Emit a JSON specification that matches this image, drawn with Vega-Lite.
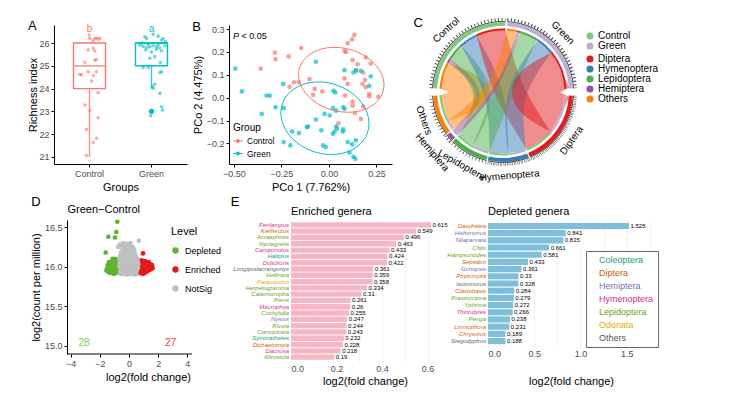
{
"$schema": "https://vega.github.io/schema/vega-lite/v6.json",
"padding": {"left": 27, "top": 13, "right": 5, "bottom": 5},
"config": {
 "font": "Liberation Sans",
 "view": {"stroke": null},
 "axis": {"labelColor": "#4d4d4d", "labelFontSize": 9, "titleFontSize": 11, "titleFontWeight": "normal", "titleColor": "#000000", "domainColor": "#000000", "tickColor": "#000000", "tickSize": 3, "grid": false, "labelPadding": 2, "titlePadding": 3, "labelOverlap": false},
 "title": {"fontSize": 13, "fontWeight": "normal", "anchor": "start", "color": "#000000", "offset": -9},
 "legend": {"titleFontWeight": "normal", "titleColor": "#000000", "labelColor": "#000000"}
},
"resolve": {"scale": {"color": "independent", "fill": "independent", "stroke": "independent", "size": "independent"}},
"spacing": 3,
"vconcat": [
 {
  "hconcat": [
   {
    "width": 133, "height": 139,
    "title": {"text": "A"},
    "layer": [
     {"data": {"name": "abox"}, "mark": {"type": "rule", "strokeWidth": 1.4, "opacity": 0.8},
      "encoding": {
       "x": {"field": "grp", "type": "nominal", "scale": {"domain": ["Control", "Green"], "paddingInner": 0.5, "paddingOuter": 0.3225}, "axis": {"title": "Groups", "labelAngle": 0}},
       "y": {"field": "lo", "type": "quantitative", "scale": {"domain": [20.69, 26.79], "nice": false, "zero": false}, "axis": {"title": "Richness index", "values": [21, 22, 23, 24, 25, 26], "tickCount": 12, "format": "d", "titlePadding": 0, "labelOverlap": false}},
       "y2": {"field": "q1"},
       "color": {"field": "grp", "type": "nominal", "scale": {"domain": ["Control", "Green"], "range": ["#F8766D", "#00BFC4"]}, "legend": null}}},
     {"data": {"name": "abox"}, "mark": {"type": "bar", "filled": false, "width": 32, "strokeWidth": 1.4},
      "encoding": {"x": {"field": "grp", "type": "nominal"}, "y": {"field": "q1", "type": "quantitative"}, "y2": {"field": "q3"}, "color": {"field": "grp", "type": "nominal"}}},
     {"data": {"name": "abox"}, "mark": {"type": "tick", "orient": "horizontal", "size": 32, "thickness": 1.8},
      "encoding": {"x": {"field": "grp", "type": "nominal"}, "y": {"field": "med", "type": "quantitative"}, "color": {"field": "grp", "type": "nominal"}}},
     {"data": {"name": "apts"}, "mark": {"type": "circle", "size": 13, "opacity": 0.6},
      "encoding": {"x": {"field": "grp", "type": "nominal"}, "xOffset": {"field": "j", "type": "quantitative", "scale": {"domain": [-1, 1]}}, "y": {"field": "v", "type": "quantitative"}, "color": {"field": "grp", "type": "nominal"}}},
     {"data": {"values": [{"grp": "Green", "v": 23}]}, "mark": {"type": "circle", "size": 28, "opacity": 1},
      "encoding": {"x": {"field": "grp", "type": "nominal"}, "y": {"field": "v", "type": "quantitative"}, "color": {"field": "grp", "type": "nominal"}}},
     {"data": {"name": "abox"}, "mark": {"type": "text", "fontSize": 10, "baseline": "middle"},
      "encoding": {"x": {"field": "grp", "type": "nominal"}, "y": {"datum": 26.62}, "text": {"field": "sig"}, "color": {"field": "grp", "type": "nominal"}}}
    ]
   },
   {
    "width": 163, "height": 139,
    "title": {"text": "B"},
    "layer": [
     {"data": {"name": "bpts"}, "mark": {"type": "circle", "size": 22, "opacity": 0.7},
      "encoding": {
       "x": {"field": "x", "type": "quantitative", "scale": {"domain": [-0.526, 0.332], "nice": false, "zero": false}, "axis": {"title": "PCo 1 (7.762%)", "values": [-0.5, -0.25, 0, 0.25], "tickCount": 10, "format": ".2f", "labelOverlap": false}},
       "y": {"field": "y", "type": "quantitative", "scale": {"domain": [-0.29, 0.3175], "nice": false, "zero": false}, "axis": {"title": "PCo 2 (4.475%)", "values": [-0.2, -0.1, 0, 0.1, 0.2, 0.3], "tickCount": 12, "format": ".1f", "labelOverlap": false}},
       "color": {"field": "g", "type": "nominal", "scale": {"domain": ["Control", "Green"], "range": ["#F8766D", "#00BFC4"]},
        "legend": {"title": "Group", "orient": "none", "legendX": 4, "legendY": 98, "titleFontSize": 10, "labelFontSize": 8.5, "symbolType": "M-1,-0.12H1V0.12H-1Z M0.4,0A0.4,0.4 0 1,1 -0.4,0A0.4,0.4 0 1,1 0.4,0Z", "symbolSize": 90, "symbolOpacity": 1, "symbolStrokeWidth": 0, "rowPadding": 2.5, "titlePadding": 3}}}},
     {"data": {"name": "bell"}, "mark": {"type": "line", "interpolate": "cardinal-closed", "strokeWidth": 1},
      "encoding": {"x": {"field": "x", "type": "quantitative"}, "y": {"field": "y", "type": "quantitative"}, "color": {"field": "g", "type": "nominal"}, "order": {"field": "k"}}},
     {"data": {"values": [{}]}, "mark": {"type": "text", "text": "P", "fontStyle": "italic", "fontSize": 9, "align": "left", "baseline": "middle"},
      "encoding": {"x": {"datum": -0.505}, "y": {"datum": 0.27}}},
     {"data": {"values": [{}]}, "mark": {"type": "text", "text": "< 0.05", "fontSize": 9, "align": "left", "baseline": "middle"},
      "encoding": {"x": {"datum": -0.46}, "y": {"datum": 0.27}}}
    ]
   },
   {
    "width": 138, "height": 134,
    "title": {"text": "C", "offset": -16},
    "resolve": {"scale": {"color": "independent"}},
    "layer": [
     {"data": {"name": "chords"},
      "transform": [
       {"calculate": "(datum.s1+datum.s2)*PI/360", "as": "A1"},
       {"calculate": "(datum.t1+datum.t2)*PI/360", "as": "A2"},
       {"calculate": "(datum.s2-datum.s1+datum.t2-datum.t1)/2", "as": "w"},
       {"calculate": "0", "as": "p0"},
       {"calculate": "1", "as": "p1"},
       {"calculate": "2", "as": "p2"},
       {"fold": ["p0", "p1", "p2"], "as": ["pk", "k"]},
       {"calculate": "0.88*(datum.k==0 ? sin(datum.A1) : datum.k==2 ? sin(datum.A2) : (sin(datum.A1)+sin(datum.A2))/4)", "as": "cx"},
       {"calculate": "0.88*(datum.k==0 ? cos(datum.A1) : datum.k==2 ? cos(datum.A2) : (cos(datum.A1)+cos(datum.A2))/4)", "as": "cy"}
      ],
      "mark": {"type": "line", "interpolate": "natural", "opacity": 0.5, "strokeCap": "butt", "strokeJoin": "round", "clip": true},
      "encoding": {
       "x": {"field": "cx", "type": "quantitative", "scale": {"domain": [-0.9857, 0.9857], "nice": false, "zero": false}, "axis": null},
       "y": {"field": "cy", "type": "quantitative", "scale": {"domain": [-0.9571, 0.9571], "nice": false, "zero": false}, "axis": null},
       "order": {"field": "k"},
       "detail": {"field": "id"},
       "stroke": {"field": "tax", "type": "nominal", "scale": {"domain": ["Diptera", "Hymenoptera", "Lepidoptera", "Hemiptera", "Others"], "range": ["#e41a1c", "#377eb8", "#4daf4a", "#984ea3", "#ff7f00"]}, "legend": null},
       "size": {"field": "w", "type": "quantitative", "scale": {"domain": [0, 40], "range": [0, 43]}, "legend": null}}},
     {"data": {"name": "segs"}, "transform": [{"filter": "datum.kind == 'grp'"}],
      "mark": {"type": "arc", "radius": 70, "radius2": 66},
      "encoding": {
       "theta": {"field": "s", "type": "quantitative", "stack": null, "scale": {"domain": [0, 360], "range": [0, 6.283185]}},
       "theta2": {"field": "e"},
       "color": {"field": "n", "type": "nominal", "scale": {"domain": ["Control", "Green"], "range": ["#7fc97f", "#beaed4"]},
        "legend": {"title": null, "orient": "none", "legendX": 151, "legendY": 6, "symbolType": "circle", "symbolSize": 50, "labelFontSize": 10, "rowPadding": 0, "labelOffset": 3}}}},
     {"data": {"name": "segs"}, "transform": [{"filter": "datum.kind == 'tax'"}],
      "mark": {"type": "arc", "radius": 70, "radius2": 66},
      "encoding": {
       "theta": {"field": "s", "type": "quantitative", "stack": null, "scale": {"domain": [0, 360], "range": [0, 6.283185]}},
       "theta2": {"field": "e"},
       "color": {"field": "n", "type": "nominal", "scale": {"domain": ["Diptera", "Hymenoptera", "Lepidoptera", "Hemiptera", "Others"], "range": ["#e41a1c", "#377eb8", "#4daf4a", "#984ea3", "#ff7f00"]},
        "legend": {"title": null, "orient": "none", "legendX": 151, "legendY": 29, "symbolType": "circle", "symbolSize": 50, "labelFontSize": 10, "rowPadding": 0, "labelOffset": 3}}}},
     {"data": {"name": "chords"},
      "mark": {"type": "arc", "radius": 63.5, "radius2": 61.5},
      "encoding": {
       "theta": {"field": "t1", "type": "quantitative", "stack": null, "scale": {"domain": [0, 360], "range": [0, 6.283185]}},
       "theta2": {"field": "t2"},
       "color": {"field": "src", "type": "nominal", "scale": {"domain": ["Control", "Green"], "range": ["#7fc97f", "#beaed4"]}, "legend": null}}},
     {"data": {"name": "chords"},
      "mark": {"type": "arc", "radius": 63.5, "radius2": 61.5},
      "encoding": {
       "theta": {"field": "s1", "type": "quantitative", "stack": null, "scale": {"domain": [0, 360], "range": [0, 6.283185]}},
       "theta2": {"field": "s2"},
       "color": {"field": "tax", "type": "nominal", "scale": {"domain": ["Diptera", "Hymenoptera", "Lepidoptera", "Hemiptera", "Others"], "range": ["#e41a1c", "#377eb8", "#4daf4a", "#984ea3", "#ff7f00"]}, "legend": null}}},
     {"data": {"name": "segs"},
      "mark": {"type": "arc", "radius": 71, "radius2": 70.2, "color": "#333333"},
      "encoding": {
       "theta": {"field": "s", "type": "quantitative", "stack": null, "scale": {"domain": [0, 360], "range": [0, 6.283185]}},
       "theta2": {"field": "e"}}},
     {"data": {"name": "segs"},
      "mark": {"type": "arc", "radius": 72.5, "radius2": 72.5, "fill": null, "stroke": "#333333", "strokeWidth": 3, "strokeDash": [0.5, 3]},
      "encoding": {
       "theta": {"field": "s", "type": "quantitative", "stack": null, "scale": {"domain": [0, 360], "range": [0, 6.283185]}},
       "theta2": {"field": "e"}}},
     {"data": {"name": "segs"},
      "transform": [
       {"calculate": "(datum.s+datum.e)/2", "as": "mid"},
       {"calculate": "datum.mid > 90 && datum.mid < 270 ? datum.mid - 180 : datum.mid", "as": "ang"},
       {"calculate": "datum.n == 'Hemiptera' ? 1.33 : 1.2", "as": "rr"},
       {"calculate": "datum.rr*sin(datum.mid*PI/180)", "as": "lx"},
       {"calculate": "datum.rr*cos(datum.mid*PI/180)", "as": "ly"}
      ],
      "mark": {"type": "text", "fontSize": 10, "align": "center", "baseline": "middle"},
      "encoding": {
       "x": {"field": "lx", "type": "quantitative"},
       "y": {"field": "ly", "type": "quantitative"},
       "text": {"field": "n"},
       "angle": {"field": "ang", "type": "quantitative", "scale": null}}}
    ]
   }
  ],
  "spacing": 42,
  "bounds": "flush",
  "resolve": {"scale": {"color": "independent", "fill": "independent", "stroke": "independent", "size": "independent"}}
 },
 {
  "hconcat": [
   {
    "width": 188, "height": 134,
    "layer": [
     {"data": {"name": "dpts"}, "mark": {"type": "circle", "size": 22, "opacity": 1},
      "encoding": {
       "x": {"field": "x", "type": "quantitative", "scale": {"domain": [-5.146, 7.753], "nice": false, "zero": false}, "axis": {"title": "log2(fold change)", "values": [-4, -2, 0, 2, 4], "tickCount": 10, "format": "d", "domain": false, "labelFlush": false}},
       "y": {"field": "y", "type": "quantitative", "scale": {"domain": [14.895, 16.592], "nice": false, "zero": false}, "axis": {"title": "log2(count per million)", "values": [15, 15.5, 16, 16.5], "tickCount": 10, "format": ".1f", "offset": -13}},
       "color": {"field": "lv", "type": "nominal", "scale": {"domain": ["Depleted", "Enriched", "NotSig"], "range": ["#5fb32f", "#e8191b", "#bfbfbf"]},
        "legend": {"title": "Level", "orient": "none", "legendX": 117, "legendY": 6, "titleFontSize": 11, "labelFontSize": 9, "symbolType": "circle", "symbolSize": 40, "symbolStrokeWidth": 0, "rowPadding": 9, "titlePadding": 9, "labelOffset": 5}}}},
     {"data": {"values": [{}]}, "mark": {"type": "rule", "color": "#000000", "strokeWidth": 1},
      "encoding": {"x": {"datum": -4.254}, "x2": {"datum": 4.32}, "y": {"datum": 14.895}}},
     {"data": {"values": [{}]}, "mark": {"type": "text", "text": "28", "fontSize": 10, "color": "#7ccd4f", "baseline": "middle"},
      "encoding": {"x": {"datum": -3.09}, "y": {"datum": 15.03}}},
     {"data": {"values": [{}]}, "mark": {"type": "text", "text": "27", "fontSize": 10, "color": "#ee3b3b", "baseline": "middle"},
      "encoding": {"x": {"datum": 2.86}, "y": {"datum": 15.03}}},
     {"data": {"values": [{}]}, "mark": {"type": "text", "text": "D", "fontSize": 13, "baseline": "middle"},
      "encoding": {"x": {"datum": -6.38}, "y": {"datum": 16.82}}},
     {"data": {"values": [{}]}, "mark": {"type": "text", "text": "Green−Control", "fontSize": 11, "align": "left", "baseline": "middle"},
      "encoding": {"x": {"datum": -4.22}, "y": {"datum": 16.713}}},
     {"data": {"values": [{}]}, "mark": {"type": "text", "text": "E", "fontSize": 13, "baseline": "middle"},
      "encoding": {"x": {"datum": 7.27}, "y": {"datum": 16.82}}}
    ]
   },
   {
    "width": 148, "height": 142,
    "title": {"text": "Enriched genera", "frame": "group", "fontSize": 11, "offset": 3},
    "data": {"name": "enr"},
    "encoding": {"y": {"field": "genus", "type": "nominal", "sort": null, "scale": {"paddingInner": 0.15, "paddingOuter": 0.35}, "axis": null}},
    "layer": [
     {"mark": {"type": "bar", "color": "#f7b6c4"},
      "encoding": {"x": {"field": "v", "type": "quantitative", "scale": {"domain": [0, 0.65], "nice": false, "zero": false},
       "axis": {"title": "log2(fold change)", "values": [0, 0.1, 0.2, 0.3, 0.4, 0.5, 0.6], "tickCount": 20, "labelExpr": "round(datum.value*10) % 2 == 0 ? format(datum.value, '.1f') : ''", "grid": true, "gridColor": "#ebebeb", "gridWidth": 0.7, "domain": false, "ticks": false, "titlePadding": 2}}}},
     {"mark": {"type": "text", "align": "left", "dx": 1.5, "fontSize": 6, "baseline": "middle"},
      "encoding": {"x": {"field": "v", "type": "quantitative"}, "text": {"field": "v", "type": "quantitative", "format": ".3~f"}}},
     {"mark": {"type": "text", "align": "right", "dx": -2, "fontSize": 6, "fontStyle": "italic", "baseline": "middle"},
      "encoding": {"x": {"datum": 0}, "text": {"field": "genus"},
       "color": {"field": "ord", "type": "nominal", "scale": {"domain": ["Coleoptera", "Diptera", "Hemiptera", "Hymenoptera", "Lepidoptera", "Odonata", "Others"], "range": ["#1b9e77", "#d95f02", "#7570b3", "#e7298a", "#66a61e", "#e6ab02", "#666666"]}, "legend": null}}}
    ]
   },
   {
    "width": 166, "height": 127,
    "title": {"text": "Depleted genera", "frame": "group", "fontSize": 11, "offset": 3},
    "data": {"name": "dep"},
    "encoding": {"y": {"field": "genus", "type": "nominal", "sort": null, "scale": {"paddingInner": 0.15, "paddingOuter": 0.4}, "axis": null}},
    "layer": [
     {"mark": {"type": "bar", "color": "#7ebfdb"},
      "encoding": {"x": {"field": "v", "type": "quantitative", "scale": {"domain": [0, 1.795], "nice": false, "zero": false},
       "axis": {"title": "log2(fold change)", "values": [0, 0.25, 0.5, 0.75, 1, 1.25, 1.5, 1.75], "tickCount": 20, "labelExpr": "round(datum.value*4) % 2 == 0 ? format(datum.value, '.1f') : ''", "grid": true, "gridColor": "#ebebeb", "gridWidth": 0.7, "domain": false, "ticks": false, "titlePadding": 17}}}},
     {"mark": {"type": "text", "align": "left", "dx": 1.5, "fontSize": 6, "baseline": "middle"},
      "encoding": {"x": {"field": "v", "type": "quantitative"}, "text": {"field": "v", "type": "quantitative", "format": ".3~f"}}},
     {"mark": {"type": "text", "align": "right", "dx": -2, "fontSize": 6, "fontStyle": "italic", "baseline": "middle"},
      "encoding": {"x": {"datum": 0}, "text": {"field": "genus"},
       "color": {"field": "ord", "type": "nominal", "scale": {"domain": ["Coleoptera", "Diptera", "Hemiptera", "Hymenoptera", "Lepidoptera", "Odonata", "Others"], "range": ["#1b9e77", "#d95f02", "#7570b3", "#e7298a", "#66a61e", "#e6ab02", "#666666"]},
        "legend": {"title": null, "orient": "none", "legendX": 98, "legendY": 31, "symbolSize": 0, "symbolOpacity": 0, "labelOffset": 0, "labelFontSize": 9, "rowPadding": 3, "padding": 4, "strokeColor": "#666666", "fillColor": "#ffffff",
         "labelColor": {"expr": "datum.value == 'Coleoptera' ? '#1b9e77' : datum.value == 'Diptera' ? '#d95f02' : datum.value == 'Hemiptera' ? '#7570b3' : datum.value == 'Hymenoptera' ? '#e7298a' : datum.value == 'Lepidoptera' ? '#66a61e' : datum.value == 'Odonata' ? '#e6ab02' : '#555555'"}}}}}
    ]
   }
  ],
  "spacing": 49,
  "bounds": "flush",
  "resolve": {"scale": {"color": "independent", "fill": "independent", "stroke": "independent", "size": "independent"}}
 }
],
"datasets": {
 "abox": [
  {"grp": "Control", "lo": 21, "q1": 24, "med": 25, "q3": 26, "hi": 26, "sig": "b"},
  {"grp": "Green", "lo": 24, "q1": 25, "med": 26, "q3": 26, "hi": 26, "sig": "a"}
 ],
 "apts": [
  {"grp": "Control", "v": 26.35, "j": -0.02}, {"grp": "Control", "v": 26.2, "j": 0.02}, {"grp": "Control", "v": 26.2, "j": 0.34}, {"grp": "Control", "v": 26.17, "j": 0.56}, {"grp": "Control", "v": 26.2, "j": 0.67}, {"grp": "Control", "v": 26.1, "j": 0.24}, {"grp": "Control", "v": 26.22, "j": 0.45}, {"grp": "Control", "v": 25.7, "j": -0.08}, {"grp": "Control", "v": 25.77, "j": 0.24}, {"grp": "Control", "v": 25.65, "j": 0.34}, {"grp": "Control", "v": 25.28, "j": 0.45}, {"grp": "Control", "v": 25.25, "j": 0.34}, {"grp": "Control", "v": 25.15, "j": -0.3}, {"grp": "Control", "v": 24.63, "j": -0.63}, {"grp": "Control", "v": 24.6, "j": -0.52}, {"grp": "Control", "v": 24.74, "j": -0.08}, {"grp": "Control", "v": 24.74, "j": 0.45}, {"grp": "Control", "v": 24.57, "j": 0.24}, {"grp": "Control", "v": 24.33, "j": 0.13}, {"grp": "Control", "v": 23.82, "j": 0.56}, {"grp": "Control", "v": 23.28, "j": -0.3}, {"grp": "Control", "v": 23.03, "j": 0.02}, {"grp": "Control", "v": 22.72, "j": 0.56}, {"grp": "Control", "v": 22.21, "j": -0.19}, {"grp": "Control", "v": 21.82, "j": 0.45}, {"grp": "Control", "v": 21.64, "j": 0.24}, {"grp": "Control", "v": 21.06, "j": -0.19},
  {"grp": "Green", "v": 26.28, "j": -0.43}, {"grp": "Green", "v": 26.2, "j": -0.32}, {"grp": "Green", "v": 26.38, "j": 0.11}, {"grp": "Green", "v": 26.3, "j": 0.43}, {"grp": "Green", "v": 26.2, "j": 0.75}, {"grp": "Green", "v": 26.13, "j": 0.65}, {"grp": "Green", "v": 26.06, "j": 0.9}, {"grp": "Green", "v": 25.9, "j": -0.75}, {"grp": "Green", "v": 25.85, "j": -0.54}, {"grp": "Green", "v": 25.8, "j": -0.32}, {"grp": "Green", "v": 25.83, "j": -0.11}, {"grp": "Green", "v": 25.88, "j": 0.11}, {"grp": "Green", "v": 25.83, "j": 0.32}, {"grp": "Green", "v": 25.78, "j": 0.54}, {"grp": "Green", "v": 25.7, "j": -0.37}, {"grp": "Green", "v": 25.6, "j": 0}, {"grp": "Green", "v": 25.73, "j": 0.32}, {"grp": "Green", "v": 25.66, "j": 0.65}, {"grp": "Green", "v": 25.33, "j": -0.11}, {"grp": "Green", "v": 25.4, "j": 0.21}, {"grp": "Green", "v": 25.14, "j": 0.58}, {"grp": "Green", "v": 24.92, "j": -0.54}, {"grp": "Green", "v": 24.92, "j": -0.21}, {"grp": "Green", "v": 24.74, "j": 0.65}, {"grp": "Green", "v": 24.7, "j": 0.54}, {"grp": "Green", "v": 24.19, "j": 0.21}, {"grp": "Green", "v": 24.01, "j": 0.11}, {"grp": "Green", "v": 24.08, "j": 0.06}, {"grp": "Green", "v": 23.79, "j": 0.54}, {"grp": "Green", "v": 23.2, "j": 0.65}, {"grp": "Green", "v": 23.06, "j": 0.71}, {"grp": "Green", "v": 22.81, "j": -0.06}, {"grp": "Green", "v": 26.0, "j": -0.65}, {"grp": "Green", "v": 25.95, "j": -0.21}, {"grp": "Green", "v": 25.92, "j": 0.43}, {"grp": "Green", "v": 25.88, "j": 0.86}
 ],
 "bpts": [
  {"g": "Control", "x": -0.285, "y": 0.197}, {"g": "Control", "x": -0.281, "y": 0.168}, {"g": "Control", "x": -0.212, "y": 0.18}, {"g": "Control", "x": -0.146, "y": 0.217}, {"g": "Control", "x": -0.359, "y": 0.127}, {"g": "Control", "x": -0.207, "y": 0.047}, {"g": "Control", "x": -0.184, "y": 0.067}, {"g": "Control", "x": -0.158, "y": 0.067}, {"g": "Control", "x": -0.102, "y": 0.081}, {"g": "Control", "x": 0.134, "y": 0.274}, {"g": "Control", "x": 0.122, "y": 0.255}, {"g": "Control", "x": 0.099, "y": 0.238}, {"g": "Control", "x": 0.082, "y": 0.204}, {"g": "Control", "x": 0.09, "y": 0.2}, {"g": "Control", "x": 0.194, "y": 0.175}, {"g": "Control", "x": 0.125, "y": 0.164}, {"g": "Control", "x": 0.22, "y": 0.149}, {"g": "Control", "x": 0.151, "y": 0.146}, {"g": "Control", "x": 0.142, "y": 0.117}, {"g": "Control", "x": 0.18, "y": 0.11}, {"g": "Control", "x": 0.082, "y": 0.084}, {"g": "Control", "x": 0.191, "y": 0.077}, {"g": "Control", "x": 0.177, "y": 0.06}, {"g": "Control", "x": 0.194, "y": 0.045}, {"g": "Control", "x": 0.099, "y": 0.06}, {"g": "Control", "x": -0.075, "y": 0.038}, {"g": "Control", "x": -0.035, "y": 0.027}, {"g": "Control", "x": -0.083, "y": 0.012}, {"g": "Control", "x": 0.085, "y": 0.009}, {"g": "Control", "x": 0.125, "y": -0.017}, {"g": "Control", "x": 0.212, "y": 0.016}, {"g": "Control", "x": 0.212, "y": 0.006}, {"g": "Control", "x": 0.26, "y": 0.004}, {"g": "Control", "x": 0.125, "y": -0.035}, {"g": "Control", "x": 0.137, "y": -0.067}, {"g": "Control", "x": 0.168, "y": -0.093}, {"g": "Control", "x": 0.05, "y": -0.112}, {"g": "Control", "x": 0.18, "y": -0.039},
  {"g": "Green", "x": -0.493, "y": 0.127}, {"g": "Green", "x": -0.458, "y": 0.027}, {"g": "Green", "x": -0.328, "y": 0.009}, {"g": "Green", "x": -0.311, "y": 0.009}, {"g": "Green", "x": -0.241, "y": 0.06}, {"g": "Green", "x": -0.354, "y": -0.071}, {"g": "Green", "x": -0.281, "y": -0.042}, {"g": "Green", "x": -0.238, "y": -0.046}, {"g": "Green", "x": -0.194, "y": -0.148}, {"g": "Green", "x": -0.158, "y": -0.155}, {"g": "Green", "x": -0.111, "y": -0.126}, {"g": "Green", "x": -0.238, "y": -0.194}, {"g": "Green", "x": -0.203, "y": -0.209}, {"g": "Green", "x": -0.069, "y": 0.157}, {"g": "Green", "x": 0.082, "y": 0.12}, {"g": "Green", "x": 0.129, "y": 0.11}, {"g": "Green", "x": 0.142, "y": 0.12}, {"g": "Green", "x": 0.168, "y": 0.117}, {"g": "Green", "x": 0.22, "y": 0.093}, {"g": "Green", "x": 0.212, "y": 0.052}, {"g": "Green", "x": 0.024, "y": 0.03}, {"g": "Green", "x": 0.033, "y": 0.023}, {"g": "Green", "x": 0.021, "y": -0.046}, {"g": "Green", "x": 0.038, "y": -0.057}, {"g": "Green", "x": 0.076, "y": -0.042}, {"g": "Green", "x": 0.082, "y": -0.049}, {"g": "Green", "x": -0.023, "y": -0.071}, {"g": "Green", "x": 0.004, "y": -0.078}, {"g": "Green", "x": -0.069, "y": -0.096}, {"g": "Green", "x": -0.115, "y": -0.129}, {"g": "Green", "x": -0.04, "y": -0.143}, {"g": "Green", "x": 0.038, "y": -0.126}, {"g": "Green", "x": 0.042, "y": -0.136}, {"g": "Green", "x": 0.021, "y": -0.158}, {"g": "Green", "x": 0.03, "y": -0.148}, {"g": "Green", "x": 0.073, "y": -0.148}, {"g": "Green", "x": 0.076, "y": -0.139}, {"g": "Green", "x": 0.099, "y": -0.194}, {"g": "Green", "x": 0.122, "y": -0.204}, {"g": "Green", "x": 0.142, "y": -0.187}, {"g": "Green", "x": -0.031, "y": -0.209}, {"g": "Green", "x": -0.017, "y": -0.216}, {"g": "Green", "x": 0.108, "y": -0.24}, {"g": "Green", "x": 0.129, "y": -0.259}, {"g": "Green", "x": 0.139, "y": -0.267}
 ],
 "bell": [
  {"g": "Control", "k": 0, "x": 0.29, "y": 0.0555}, {"g": "Control", "k": 1, "x": 0.2729, "y": 0.1108}, {"g": "Control", "k": 2, "x": 0.2241, "y": 0.1611}, {"g": "Control", "k": 3, "x": 0.1512, "y": 0.1988}, {"g": "Control", "k": 4, "x": 0.065, "y": 0.218}, {"g": "Control", "k": 5, "x": -0.0212, "y": 0.216}, {"g": "Control", "k": 6, "x": -0.0941, "y": 0.1929}, {"g": "Control", "k": 7, "x": -0.1429, "y": 0.1524}, {"g": "Control", "k": 8, "x": -0.16, "y": 0.1005}, {"g": "Control", "k": 9, "x": -0.1429, "y": 0.0452}, {"g": "Control", "k": 10, "x": -0.0941, "y": -0.0051}, {"g": "Control", "k": 11, "x": -0.0212, "y": -0.0428}, {"g": "Control", "k": 12, "x": 0.065, "y": -0.062}, {"g": "Control", "k": 13, "x": 0.1512, "y": -0.06}, {"g": "Control", "k": 14, "x": 0.2241, "y": -0.0369}, {"g": "Control", "k": 15, "x": 0.2729, "y": 0.0036},
  {"g": "Green", "k": 0, "x": 0.211, "y": -0.1132}, {"g": "Green", "k": 1, "x": 0.1934, "y": -0.0513}, {"g": "Green", "k": 2, "x": 0.143, "y": 0.0046}, {"g": "Green", "k": 3, "x": 0.0678, "y": 0.0461}, {"g": "Green", "k": 4, "x": -0.021, "y": 0.067}, {"g": "Green", "k": 5, "x": -0.1098, "y": 0.0639}, {"g": "Green", "k": 6, "x": -0.185, "y": 0.0374}, {"g": "Green", "k": 7, "x": -0.2354, "y": -0.0085}, {"g": "Green", "k": 8, "x": -0.253, "y": -0.0668}, {"g": "Green", "k": 9, "x": -0.2354, "y": -0.1287}, {"g": "Green", "k": 10, "x": -0.185, "y": -0.1846}, {"g": "Green", "k": 11, "x": -0.1098, "y": -0.2261}, {"g": "Green", "k": 12, "x": -0.021, "y": -0.247}, {"g": "Green", "k": 13, "x": 0.0678, "y": -0.2439}, {"g": "Green", "k": 14, "x": 0.143, "y": -0.2174}, {"g": "Green", "k": 15, "x": 0.1934, "y": -0.1715}
 ],
 "segs": [
  {"n": "Control", "kind": "grp", "s": 273, "e": 362},
  {"n": "Green", "kind": "grp", "s": 3.5, "e": 87},
  {"n": "Diptera", "kind": "tax", "s": 93, "e": 157.5},
  {"n": "Hymenoptera", "kind": "tax", "s": 158.5, "e": 192.5},
  {"n": "Lepidoptera", "kind": "tax", "s": 193.5, "e": 225.5},
  {"n": "Hemiptera", "kind": "tax", "s": 226.5, "e": 232.5},
  {"n": "Others", "kind": "tax", "s": 233.5, "e": 267}
 ],
 "chords": [
  {"id": "c1", "src": "Control", "tax": "Others", "s1": 273, "s2": 298, "t1": 242, "t2": 267},
  {"id": "c2", "src": "Control", "tax": "Hemiptera", "s1": 298, "s2": 302, "t1": 229, "t2": 232.5},
  {"id": "c3", "src": "Control", "tax": "Lepidoptera", "s1": 302, "s2": 318, "t1": 209, "t2": 225.5},
  {"id": "c4", "src": "Control", "tax": "Hymenoptera", "s1": 318, "s2": 335, "t1": 175, "t2": 192.5},
  {"id": "c5", "src": "Control", "tax": "Diptera", "s1": 335, "s2": 362, "t1": 130, "t2": 157.5},
  {"id": "g1", "src": "Green", "tax": "Others", "s1": 3.5, "s2": 13, "t1": 233.5, "t2": 242},
  {"id": "g2", "src": "Green", "tax": "Hemiptera", "s1": 13, "s2": 16, "t1": 226.5, "t2": 229},
  {"id": "g3", "src": "Green", "tax": "Lepidoptera", "s1": 16, "s2": 33.5, "t1": 193.5, "t2": 209},
  {"id": "g4", "src": "Green", "tax": "Hymenoptera", "s1": 33.5, "s2": 51, "t1": 158.5, "t2": 175},
  {"id": "g5", "src": "Green", "tax": "Diptera", "s1": 51, "s2": 87, "t1": 93, "t2": 130}
 ],
 "dpts": [
  {"lv": "NotSig", "x": -0.6, "y": 15.91}, {"lv": "NotSig", "x": -0.45, "y": 15.905}, {"lv": "NotSig", "x": -0.3, "y": 15.915}, {"lv": "NotSig", "x": -0.15, "y": 15.9}, {"lv": "NotSig", "x": 0, "y": 15.91}, {"lv": "NotSig", "x": 0.15, "y": 15.905}, {"lv": "NotSig", "x": 0.3, "y": 15.915}, {"lv": "NotSig", "x": 0.45, "y": 15.9}, {"lv": "NotSig", "x": 0.6, "y": 15.91},
  {"lv": "NotSig", "x": -0.75, "y": 15.94}, {"lv": "NotSig", "x": -0.62, "y": 15.945}, {"lv": "NotSig", "x": -0.5, "y": 15.935}, {"lv": "NotSig", "x": -0.36, "y": 15.94}, {"lv": "NotSig", "x": -0.22, "y": 15.95}, {"lv": "NotSig", "x": -0.08, "y": 15.935}, {"lv": "NotSig", "x": 0.05, "y": 15.945}, {"lv": "NotSig", "x": 0.2, "y": 15.94}, {"lv": "NotSig", "x": 0.33, "y": 15.935}, {"lv": "NotSig", "x": 0.47, "y": 15.945}, {"lv": "NotSig", "x": 0.6, "y": 15.94}, {"lv": "NotSig", "x": 0.72, "y": 15.935},
  {"lv": "NotSig", "x": -0.82, "y": 15.97}, {"lv": "NotSig", "x": -0.68, "y": 15.975}, {"lv": "NotSig", "x": -0.55, "y": 15.965}, {"lv": "NotSig", "x": -0.42, "y": 15.97}, {"lv": "NotSig", "x": -0.28, "y": 15.98}, {"lv": "NotSig", "x": -0.14, "y": 15.965}, {"lv": "NotSig", "x": 0, "y": 15.975}, {"lv": "NotSig", "x": 0.13, "y": 15.97}, {"lv": "NotSig", "x": 0.27, "y": 15.98}, {"lv": "NotSig", "x": 0.4, "y": 15.965}, {"lv": "NotSig", "x": 0.54, "y": 15.97}, {"lv": "NotSig", "x": 0.68, "y": 15.975}, {"lv": "NotSig", "x": 0.8, "y": 15.965},
  {"lv": "NotSig", "x": -0.88, "y": 16.0}, {"lv": "NotSig", "x": -0.74, "y": 16.005}, {"lv": "NotSig", "x": -0.6, "y": 15.995}, {"lv": "NotSig", "x": -0.47, "y": 16.0}, {"lv": "NotSig", "x": -0.33, "y": 16.01}, {"lv": "NotSig", "x": -0.2, "y": 15.995}, {"lv": "NotSig", "x": -0.06, "y": 16.005}, {"lv": "NotSig", "x": 0.08, "y": 16.0}, {"lv": "NotSig", "x": 0.22, "y": 16.01}, {"lv": "NotSig", "x": 0.36, "y": 15.995}, {"lv": "NotSig", "x": 0.5, "y": 16.005}, {"lv": "NotSig", "x": 0.63, "y": 16.0}, {"lv": "NotSig", "x": 0.77, "y": 16.01},
  {"lv": "NotSig", "x": -0.85, "y": 16.03}, {"lv": "NotSig", "x": -0.7, "y": 16.035}, {"lv": "NotSig", "x": -0.56, "y": 16.025}, {"lv": "NotSig", "x": -0.42, "y": 16.03}, {"lv": "NotSig", "x": -0.28, "y": 16.04}, {"lv": "NotSig", "x": -0.15, "y": 16.025}, {"lv": "NotSig", "x": 0, "y": 16.035}, {"lv": "NotSig", "x": 0.14, "y": 16.03}, {"lv": "NotSig", "x": 0.28, "y": 16.04}, {"lv": "NotSig", "x": 0.42, "y": 16.025}, {"lv": "NotSig", "x": 0.56, "y": 16.03}, {"lv": "NotSig", "x": 0.7, "y": 16.035},
  {"lv": "NotSig", "x": -0.78, "y": 16.06}, {"lv": "NotSig", "x": -0.64, "y": 16.065}, {"lv": "NotSig", "x": -0.5, "y": 16.055}, {"lv": "NotSig", "x": -0.35, "y": 16.06}, {"lv": "NotSig", "x": -0.2, "y": 16.07}, {"lv": "NotSig", "x": -0.06, "y": 16.055}, {"lv": "NotSig", "x": 0.1, "y": 16.065}, {"lv": "NotSig", "x": 0.25, "y": 16.06}, {"lv": "NotSig", "x": 0.4, "y": 16.07}, {"lv": "NotSig", "x": 0.55, "y": 16.055},
  {"lv": "NotSig", "x": -0.7, "y": 16.1}, {"lv": "NotSig", "x": -0.55, "y": 16.105}, {"lv": "NotSig", "x": -0.4, "y": 16.095}, {"lv": "NotSig", "x": -0.25, "y": 16.1}, {"lv": "NotSig", "x": -0.1, "y": 16.11}, {"lv": "NotSig", "x": 0.05, "y": 16.095}, {"lv": "NotSig", "x": 0.2, "y": 16.105}, {"lv": "NotSig", "x": 0.35, "y": 16.1}, {"lv": "NotSig", "x": 0.5, "y": 16.11}, {"lv": "NotSig", "x": 0.62, "y": 16.095},
  {"lv": "NotSig", "x": -0.6, "y": 16.14}, {"lv": "NotSig", "x": -0.45, "y": 16.145}, {"lv": "NotSig", "x": -0.3, "y": 16.135}, {"lv": "NotSig", "x": -0.12, "y": 16.14}, {"lv": "NotSig", "x": 0.02, "y": 16.15}, {"lv": "NotSig", "x": 0.18, "y": 16.135}, {"lv": "NotSig", "x": 0.32, "y": 16.145}, {"lv": "NotSig", "x": 0.45, "y": 16.14},
  {"lv": "NotSig", "x": -0.55, "y": 16.18}, {"lv": "NotSig", "x": -0.38, "y": 16.185}, {"lv": "NotSig", "x": -0.2, "y": 16.175}, {"lv": "NotSig", "x": -0.05, "y": 16.18}, {"lv": "NotSig", "x": 0.1, "y": 16.19}, {"lv": "NotSig", "x": 0.25, "y": 16.175}, {"lv": "NotSig", "x": 0.38, "y": 16.185},
  {"lv": "NotSig", "x": -0.45, "y": 16.22}, {"lv": "NotSig", "x": -0.28, "y": 16.225}, {"lv": "NotSig", "x": -0.1, "y": 16.215}, {"lv": "NotSig", "x": 0.05, "y": 16.23}, {"lv": "NotSig", "x": 0.2, "y": 16.22},
  {"lv": "NotSig", "x": -0.3, "y": 16.26}, {"lv": "NotSig", "x": -0.05, "y": 16.265}, {"lv": "NotSig", "x": 0.12, "y": 16.255},
  {"lv": "NotSig", "x": 0.68, "y": 16.33}, {"lv": "NotSig", "x": 0.1, "y": 16.3}, {"lv": "NotSig", "x": -0.2, "y": 16.28},
  {"lv": "NotSig", "x": -0.75, "y": 16.25}, {"lv": "NotSig", "x": -0.65, "y": 16.28}, {"lv": "NotSig", "x": -0.5, "y": 16.27}, {"lv": "NotSig", "x": -0.4, "y": 16.3}, {"lv": "NotSig", "x": -0.15, "y": 16.29}, {"lv": "NotSig", "x": 0.25, "y": 16.25}, {"lv": "NotSig", "x": 0.35, "y": 16.22},
  {"lv": "Enriched", "x": 0.96, "y": 16.17}, {"lv": "Enriched", "x": 0.85, "y": 15.95}, {"lv": "Enriched", "x": 0.9, "y": 16.0}, {"lv": "Enriched", "x": 0.92, "y": 16.05}, {"lv": "Enriched", "x": 1.0, "y": 15.93}, {"lv": "Enriched", "x": 1.02, "y": 15.98}, {"lv": "Enriched", "x": 1.05, "y": 16.03}, {"lv": "Enriched", "x": 1.1, "y": 16.07}, {"lv": "Enriched", "x": 1.12, "y": 15.95}, {"lv": "Enriched", "x": 1.15, "y": 16.0}, {"lv": "Enriched", "x": 1.2, "y": 16.04}, {"lv": "Enriched", "x": 1.25, "y": 15.94}, {"lv": "Enriched", "x": 1.28, "y": 15.98}, {"lv": "Enriched", "x": 1.3, "y": 16.02}, {"lv": "Enriched", "x": 1.35, "y": 16.06}, {"lv": "Enriched", "x": 1.4, "y": 15.96}, {"lv": "Enriched", "x": 1.42, "y": 16.0}, {"lv": "Enriched", "x": 1.47, "y": 16.03}, {"lv": "Enriched", "x": 1.5, "y": 15.97}, {"lv": "Enriched", "x": 1.55, "y": 16.0}, {"lv": "Enriched", "x": 1.58, "y": 16.02}, {"lv": "Enriched", "x": 1.62, "y": 15.98}, {"lv": "Enriched", "x": 0.8, "y": 15.92}, {"lv": "Enriched", "x": 0.95, "y": 15.91}, {"lv": "Enriched", "x": 1.08, "y": 15.92}, {"lv": "Enriched", "x": 1.38, "y": 16.04}, {"lv": "Enriched", "x": 0.88, "y": 16.08},
  {"lv": "Depleted", "x": -0.8, "y": 16.57}, {"lv": "Depleted", "x": -0.87, "y": 16.44}, {"lv": "Depleted", "x": -1.42, "y": 16.38}, {"lv": "Depleted", "x": -0.96, "y": 16.37}, {"lv": "Depleted", "x": -1.6, "y": 16.18}, {"lv": "Depleted", "x": -1.5, "y": 15.98}, {"lv": "Depleted", "x": -1.45, "y": 16.02}, {"lv": "Depleted", "x": -1.35, "y": 15.96}, {"lv": "Depleted", "x": -1.3, "y": 16.0}, {"lv": "Depleted", "x": -1.25, "y": 16.05}, {"lv": "Depleted", "x": -1.2, "y": 15.95}, {"lv": "Depleted", "x": -1.15, "y": 15.99}, {"lv": "Depleted", "x": -1.1, "y": 16.03}, {"lv": "Depleted", "x": -1.05, "y": 16.08}, {"lv": "Depleted", "x": -1.0, "y": 15.94}, {"lv": "Depleted", "x": -0.98, "y": 15.98}, {"lv": "Depleted", "x": -0.95, "y": 16.02}, {"lv": "Depleted", "x": -0.92, "y": 16.06}, {"lv": "Depleted", "x": -1.12, "y": 16.1}, {"lv": "Depleted", "x": -1.4, "y": 15.93}, {"lv": "Depleted", "x": -0.9, "y": 15.92}, {"lv": "Depleted", "x": -1.28, "y": 15.92}, {"lv": "Depleted", "x": -1.05, "y": 15.91}, {"lv": "Depleted", "x": -0.95, "y": 16.1}, {"lv": "Depleted", "x": -1.18, "y": 16.07}, {"lv": "Depleted", "x": -1.38, "y": 16.06}, {"lv": "Depleted", "x": -0.88, "y": 15.96}, {"lv": "Depleted", "x": -1.55, "y": 15.95}
 ],
 "enr": [
  {"genus": "Perilampus", "ord": "Hymenoptera", "v": 0.615},
  {"genus": "Kiefferulus", "ord": "Diptera", "v": 0.549},
  {"genus": "Acraephnes", "ord": "Lepidoptera", "v": 0.496},
  {"genus": "Nyctegretis", "ord": "Lepidoptera", "v": 0.463},
  {"genus": "Camponotus", "ord": "Hymenoptera", "v": 0.433},
  {"genus": "Haliplus", "ord": "Coleoptera", "v": 0.424},
  {"genus": "Dolichoris", "ord": "Hymenoptera", "v": 0.422},
  {"genus": "Longipodacrangonyx", "ord": "Others", "v": 0.361},
  {"genus": "Hellinsia", "ord": "Lepidoptera", "v": 0.359},
  {"genus": "Paracercion", "ord": "Odonata", "v": 0.358},
  {"genus": "Herpetogramma", "ord": "Lepidoptera", "v": 0.334},
  {"genus": "Calamotropha", "ord": "Lepidoptera", "v": 0.31},
  {"genus": "Pieris", "ord": "Lepidoptera", "v": 0.261},
  {"genus": "Macrophya", "ord": "Hymenoptera", "v": 0.26},
  {"genus": "Cochylidia", "ord": "Lepidoptera", "v": 0.255},
  {"genus": "Nysius", "ord": "Hemiptera", "v": 0.247},
  {"genus": "Rivula", "ord": "Lepidoptera", "v": 0.244},
  {"genus": "Ctenoplusia", "ord": "Lepidoptera", "v": 0.243},
  {"genus": "Symmathetes", "ord": "Coleoptera", "v": 0.232},
  {"genus": "Dichaetomyia", "ord": "Diptera", "v": 0.228},
  {"genus": "Dacnusa", "ord": "Hymenoptera", "v": 0.218},
  {"genus": "Abrostola", "ord": "Lepidoptera", "v": 0.19}
 ],
 "dep": [
  {"genus": "Dasyhelea", "ord": "Diptera", "v": 1.525},
  {"genus": "Hishimonus", "ord": "Hemiptera", "v": 0.841},
  {"genus": "Nilaparvata", "ord": "Hemiptera", "v": 0.815},
  {"genus": "Chilo", "ord": "Lepidoptera", "v": 0.661},
  {"genus": "Hampsonodes", "ord": "Lepidoptera", "v": 0.581},
  {"genus": "Sepedon", "ord": "Diptera", "v": 0.433},
  {"genus": "Gonopsis", "ord": "Hemiptera", "v": 0.361},
  {"genus": "Phytomyza", "ord": "Diptera", "v": 0.33},
  {"genus": "Isotomurus", "ord": "Others", "v": 0.328},
  {"genus": "Clastobasis", "ord": "Diptera", "v": 0.284},
  {"genus": "Prasinocyma", "ord": "Lepidoptera", "v": 0.279},
  {"genus": "Ypthima", "ord": "Lepidoptera", "v": 0.272},
  {"genus": "Thinodytes", "ord": "Hymenoptera", "v": 0.266},
  {"genus": "Periga", "ord": "Lepidoptera", "v": 0.238},
  {"genus": "Limnophora", "ord": "Diptera", "v": 0.231},
  {"genus": "Chrysotus", "ord": "Diptera", "v": 0.189},
  {"genus": "Stegodyphus", "ord": "Others", "v": 0.188}
 ]
}
}
